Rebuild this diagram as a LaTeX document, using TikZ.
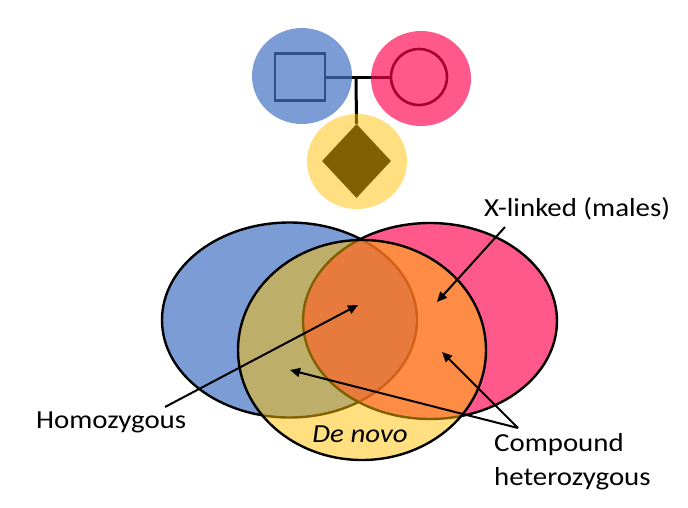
\documentclass[tikz,border=0pt]{standalone}
\usepackage{fontspec}
\setmainfont{Carlito}[FakeStretch=1.11]
\usetikzlibrary{arrows.meta,shapes.geometric}
\definecolor{mblue}{HTML}{4472C4}
\definecolor{mpink}{HTML}{FF004E}
\definecolor{myel}{HTML}{FFC000}
\begin{document}
\begin{tikzpicture}[x=1pt,y=-1pt,
  sym/.style={draw=black,line width=2.6pt,inner sep=0pt},
  halo/.style={ellipse,inner sep=0pt,draw=none},
  vennset/.style={ellipse,inner sep=0pt,draw=black,line width=2.4pt},
  lbl/.style={font=\fontsize{26}{31}\selectfont,inner sep=0pt},
  arr/.style={line width=2pt,-{Triangle[length=10pt,width=9pt]}}]
\useasboundingbox (0,0) rectangle (688,507);
% pedigree symbols (under the translucent halos)
\node[sym,fill=white,minimum width=50pt,minimum height=47pt] (father) at (300,77) {};
\node[sym,circle,minimum size=56pt] (mother) at (419,77) {};
\node[diamond,fill=black,inner sep=0pt,minimum width=69pt,minimum height=74pt] (child) at (356.5,161) {};
\coordinate (mate) at (356,77);
\draw[line width=3pt] (father.east) -- (mother.west);
\draw[line width=3pt] (mate) -- (child.north);
% halos
\node[halo,fill=mblue,fill opacity=0.7,minimum width=100pt,minimum height=96pt] (fhalo) at (302,76) {};
\node[halo,fill=mpink,fill opacity=0.65,minimum width=100pt,minimum height=95pt] (mhalo) at (421,78.5) {};
\node[halo,fill=myel,fill opacity=0.5,minimum width=100pt,minimum height=95pt] (chalo) at (357,161.5) {};
% Venn sets
\node[vennset,fill=mblue,fill opacity=0.7,minimum width=255pt,minimum height=195pt] (A) at (289.5,320) {};
\node[vennset,fill=mpink,fill opacity=0.65,minimum width=254pt,minimum height=196pt] (B) at (430,321) {};
\node[vennset,fill=myel,fill opacity=0.5,minimum width=248pt,minimum height=220pt] (C) at (362,350) {};
% labels
\node[lbl,anchor=base west] (xl) at (484,216) {X-linked (males)};
\node[lbl,anchor=base west] (homo) at (36,428) {Homozygous};
\node[lbl,anchor=base] (dn) at (360,442) {\itshape De novo};
\node[lbl,anchor=base west] (comp1) at (494,451) {Compound};
\node[lbl,anchor=base west] (comp2) at (494,485) {heterozygous};
% arrow ends
\coordinate (xls) at (505,227);
\coordinate (xlt) at (437,302);
\coordinate (hos) at (165,407);
\coordinate (hot) at (358,305);
\coordinate (cjs) at (518,428);
\coordinate (ct1) at (290,370);
\coordinate (ct2) at (442,352);
\draw[arr] (xls) -- (xlt);
\draw[arr] (hos) -- (hot);
\draw[arr] (cjs) -- (ct1);
\draw[arr] (cjs) -- (ct2);
\end{tikzpicture}
\end{document}
